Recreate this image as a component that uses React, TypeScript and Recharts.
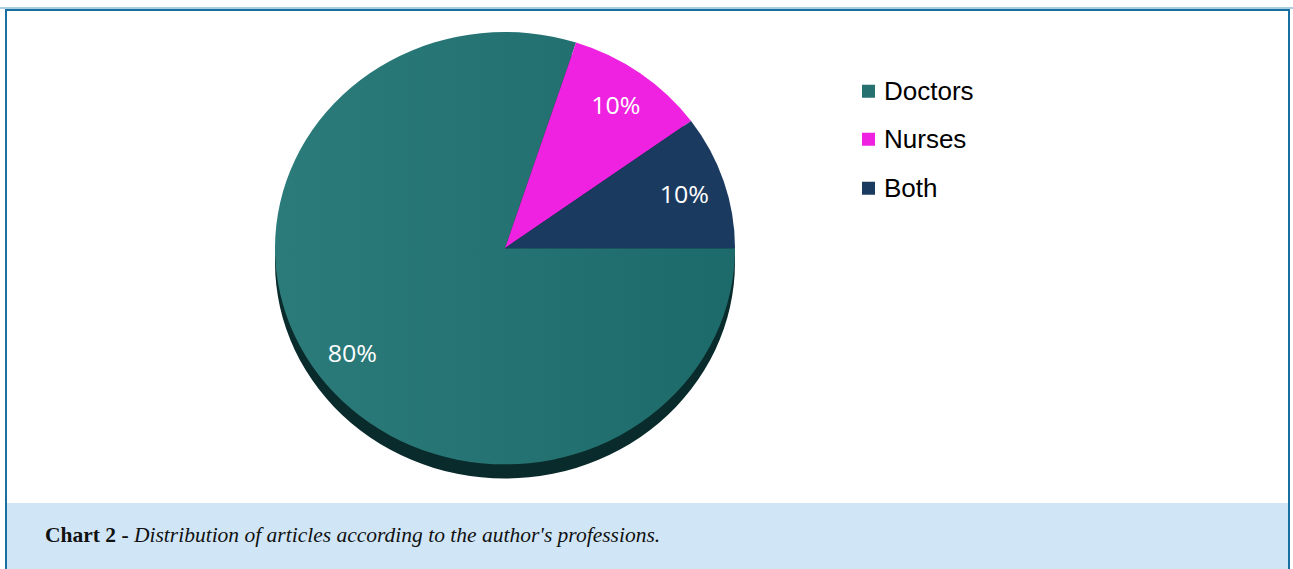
import React from 'react';
import { PieChart, Pie, Cell, Legend } from 'recharts';

const categories = ['Doctors', 'Nurses', 'Both'];
const values = [80, 10, 10];
const labels = ['80%', '10%', '10%'];
const colors = ['url(#docGrad)', '#ee22e0', '#1b3a5f'];
const legendColors = ['#26716f', '#ee22e0', '#1b3a5f'];

const data = categories.map((name, i) => ({ name, value: values[i], label: labels[i] }));

const SY = 0.94;
const CX = 505;
const CY = 264;
const R = 230;
const RAD = Math.PI / 180;

const renderLabel = (props: any) => {
  const { cx, cy, midAngle, outerRadius, index } = props;
  const r = outerRadius * 0.82;
  const x = cx + r * Math.cos(-midAngle * RAD);
  const y = cy + r * Math.sin(-midAngle * RAD);
  return (
    <text
      x={x}
      y={y}
      fill="#ffffff"
      textAnchor="middle"
      dominantBaseline="central"
      fontFamily="'Open Sans', 'Noto Sans', sans-serif"
      fontSize={25}
      fontWeight={500}
    >
      {data[index].label}
    </text>
  );
};

const LegendContent = () => (
  <div style={{ fontFamily: "'Liberation Sans', Arial, sans-serif", fontSize: 26, color: '#000' }}>
    {categories.map((c, i) => (
      <div key={c} style={{ display: 'flex', alignItems: 'center', height: 48.5 }}>
        <span
          style={{
            display: 'inline-block',
            width: 13,
            height: 13,
            background: legendColors[i],
            marginRight: 9,
          }}
        />
        <span>{c}</span>
      </div>
    ))}
  </div>
);

export default function App() {
  return (
    <div
      style={{
        position: 'absolute',
        left: 0,
        top: 0,
        width: 1293,
        height: 569,
        background: '#ffffff',
        overflow: 'hidden',
      }}
    >
      <div style={{ position: 'absolute', left: 0, top: 7, width: 1293, height: 2, background: '#a9cde3' }} />
      <div
        style={{
          position: 'absolute',
          left: 5,
          top: 9,
          width: 1285,
          height: 600,
          boxSizing: 'border-box',
          border: '2px solid #17709f',
          borderBottom: 'none',
        }}
      />
      <div
        style={{
          position: 'absolute',
          left: 0,
          top: 0,
          width: 1293,
          height: 535,
          transform: `scaleY(${SY})`,
          transformOrigin: 'top left',
        }}
      >
        <PieChart width={1293} height={535} margin={{ top: 0, right: 0, bottom: 0, left: 0 }}>
          <defs>
            <linearGradient id="docGrad" x1="0" y1="0" x2="1" y2="0">
              <stop offset="0%" stopColor="#2c7b7b" />
              <stop offset="100%" stopColor="#1d6a6a" />
            </linearGradient>
          </defs>
          <Pie
            data={data}
            dataKey="value"
            nameKey="name"
            cx={CX}
            cy={CY + 15}
            outerRadius={R}
            startAngle={360}
            endAngle={0}
            stroke="none"
            isAnimationActive={false}
            legendType="none"
          >
            {data.map((d) => (
              <Cell key={d.name} fill="#0a2b2b" />
            ))}
          </Pie>
          <Pie
            data={data}
            dataKey="value"
            nameKey="name"
            cx={CX}
            cy={CY}
            outerRadius={R}
            startAngle={360}
            endAngle={0}
            stroke="none"
            label={renderLabel}
            labelLine={false}
            isAnimationActive={false}
          >
            {data.map((d, i) => (
              <Cell key={d.name} fill={colors[i]} />
            ))}
          </Pie>
          <Legend
            content={<LegendContent />}
            wrapperStyle={{
              position: 'absolute',
              left: 862,
              top: 71,
              width: 200,
              transform: `scaleY(${1 / SY})`,
              transformOrigin: 'top left',
            }}
          />
        </PieChart>
      </div>
      <div
        style={{
          position: 'absolute',
          left: 7,
          top: 503,
          width: 1281,
          height: 66,
          background: '#d0e6f6',
        }}
      />
      <div
        style={{
          position: 'absolute',
          left: 45,
          top: 523,
          fontFamily: "'Liberation Serif', 'Times New Roman', serif",
          fontSize: 21.5,
          color: '#111',
          whiteSpace: 'nowrap',
        }}
      >
        <b>Chart 2 - </b>
        <i>Distribution of articles according to the author's professions.</i>
      </div>
    </div>
  );
}
